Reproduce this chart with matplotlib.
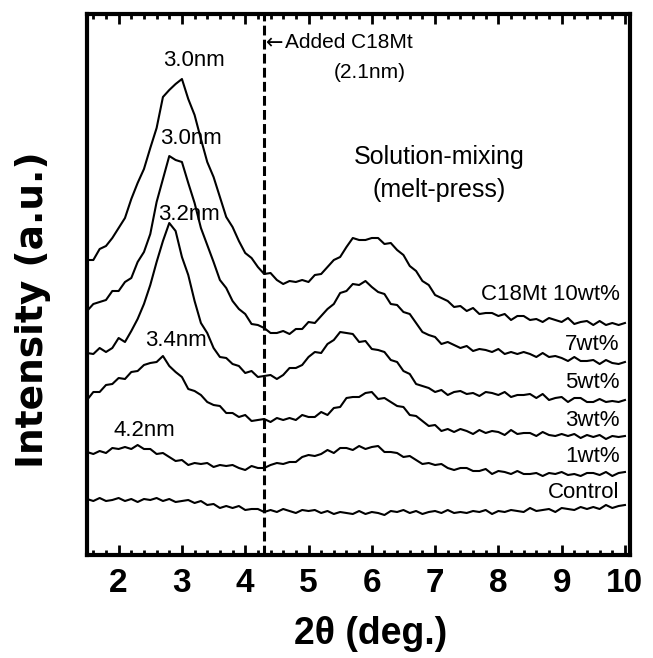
import numpy as np
import matplotlib
matplotlib.use('Agg')
from matplotlib import pyplot as plt
from matplotlib.ticker import MultipleLocator

# 2theta scan, 0.1 deg step
two_theta = np.round(np.arange(1.5, 10.05, 0.1), 1)

# intensities (a.u., already offset for stacking)
c18mt_10 = [295, 295, 306, 309, 317, 327, 337, 356, 372, 386,
            407, 427, 458, 465, 471, 476, 456, 440, 416, 393,
            378, 358, 338, 328, 314, 302, 297, 288, 281, 282,
            275, 271, 274, 273, 275, 273, 280, 281, 288, 295,
            298, 308, 317, 315, 315, 317, 317, 311, 312, 305,
            300, 289, 284, 274, 270, 260, 257, 254, 248, 249,
            244, 247, 241, 242, 242, 239, 241, 235, 239, 239,
            235, 236, 233, 237, 235, 233, 237, 231, 233, 234,
            230, 234, 230, 232, 230, 232]
c18mt_7 = [244, 251, 253, 255, 264, 264, 273, 277, 293, 303,
           321, 353, 376, 399, 395, 393, 372, 352, 327, 310,
           293, 275, 267, 254, 246, 241, 231, 230, 227, 222,
           222, 224, 221, 226, 226, 233, 232, 239, 246, 251,
           262, 264, 271, 270, 274, 268, 263, 261, 251, 250,
           243, 241, 232, 223, 220, 218, 211, 213, 210, 207,
           209, 204, 206, 205, 203, 206, 201, 203, 201, 203,
           201, 198, 202, 198, 199, 197, 194, 198, 194, 194,
           195, 191, 195, 192, 191, 193]
c18mt_5 = [202, 201, 207, 203, 207, 217, 213, 224, 236, 251,
           270, 293, 314, 332, 324, 298, 280, 254, 232, 222,
           207, 198, 197, 191, 189, 182, 184, 178, 179, 180,
           176, 180, 187, 187, 190, 198, 203, 202, 211, 215,
           223, 222, 221, 213, 214, 206, 205, 203, 195, 193,
           184, 181, 171, 169, 167, 163, 165, 160, 163, 164,
           161, 162, 159, 163, 162, 160, 163, 158, 160, 160,
           161, 157, 161, 155, 157, 158, 153, 157, 157, 153,
           153, 156, 153, 154, 153, 155]
c18mt_3 = [155, 163, 163, 170, 171, 177, 176, 183, 184, 190,
           192, 193, 199, 189, 183, 178, 166, 164, 160, 153,
           150, 149, 142, 142, 138, 140, 134, 135, 136, 133,
           137, 135, 137, 135, 140, 138, 138, 143, 140, 147,
           148, 157, 158, 158, 162, 163, 156, 157, 153, 149,
           148, 140, 139, 134, 129, 130, 124, 126, 123, 126,
           124, 121, 125, 122, 124, 123, 120, 125, 121, 122,
           122, 119, 123, 120, 119, 121, 119, 121, 117, 120,
           118, 120, 116, 119, 118, 119]
c18mt_1 = [103, 101, 104, 102, 107, 106, 108, 106, 110, 106,
           106, 101, 102, 98, 94, 95, 90, 92, 91, 92,
           88, 90, 89, 90, 87, 85, 89, 87, 87, 90,
           92, 91, 93, 93, 98, 100, 99, 101, 105, 102,
           107, 107, 105, 109, 106, 108, 109, 103, 103, 102,
           98, 99, 95, 91, 92, 90, 91, 87, 85, 87,
           87, 84, 84, 86, 81, 84, 83, 81, 84, 81,
           81, 82, 79, 82, 81, 83, 80, 81, 79, 82,
           82, 80, 83, 79, 82, 83]
control = [56, 54, 57, 54, 55, 57, 54, 56, 53, 56,
           55, 57, 54, 56, 53, 54, 55, 52, 54, 50,
           51, 47, 49, 47, 49, 45, 46, 46, 43, 45,
           43, 46, 44, 42, 45, 44, 45, 42, 44, 41,
           43, 42, 41, 44, 41, 43, 42, 40, 44, 43,
           45, 42, 44, 41, 43, 44, 42, 45, 42, 43,
           42, 44, 43, 45, 41, 44, 43, 45, 44, 43,
           47, 44, 45, 46, 43, 47, 46, 45, 48, 46,
           48, 46, 50, 47, 49, 50]

series = [c18mt_10, c18mt_7, c18mt_5, c18mt_3, c18mt_1, control]
names = ['C18Mt 10wt%', '7wt%', '5wt%', '3wt%', '1wt%', 'Control']
name_y = [260, 210, 172, 135, 98, 63]
d_labels = ['3.0nm', '3.0nm', '3.2nm', '3.4nm', '4.2nm']
d_pos = [(3.19, 495), (3.15, 417), (3.11, 340), (2.90, 215), (2.41, 125)]
c18mt_2theta = 4.3

plt.rcParams['font.family'] = ['Liberation Sans', 'DejaVu Sans']

fig = plt.figure(figsize=(6.53, 6.58), dpi=100)
ax = fig.add_axes([87/653, 103/658, 543/653, 541/658])

for y in series:
    assert len(y) == len(two_theta)
    ax.plot(two_theta, y, color='black', lw=1.5)

ax.axvline(c18mt_2theta, color='black', lw=2.2, ls=(0, (3.2, 1.4)))

for name, y in zip(names, name_y):
    ax.text(9.92, y, name, ha='right', va='center', fontsize=16)
for lab, (x, y) in zip(d_labels, d_pos):
    ax.text(x, y, lab, ha='center', va='center', fontsize=16)

ax.text(c18mt_2theta + 0.03, 512, '\u2190', ha='left', va='center',
        fontsize=15, family='DejaVu Sans')
ax.text(c18mt_2theta + 0.33, 512, 'Added C18Mt', ha='left', va='center',
        fontsize=15)
ax.text(5.97, 483, '(2.1nm)', ha='center', va='center', fontsize=15)
ax.text(7.07, 398, 'Solution-mixing', ha='center', va='center', fontsize=18)
ax.text(7.07, 365, '(melt-press)', ha='center', va='center', fontsize=18)

ax.set_xlim(1.5, 10.08)
ax.set_ylim(0, 541)
ax.xaxis.set_major_locator(MultipleLocator(1))
ax.xaxis.set_minor_locator(MultipleLocator(0.2))
ax.tick_params(axis='x', which='both', direction='in', top=True, width=2)
ax.tick_params(axis='x', which='major', length=7, pad=9, labelsize=24)
ax.tick_params(axis='x', which='minor', length=3.5)
ax.set_yticks([])
for lab in ax.get_xticklabels():
    lab.set_fontweight('bold')
for sp in ax.spines.values():
    sp.set_linewidth(3)

ax.set_xlabel('2\u03b8 (deg.)', fontsize=27, fontweight='bold')
ax.xaxis.set_label_coords(0.523, -0.112)
ax.set_ylabel('Intensity (a.u.)', fontsize=27, fontweight='bold',
              family='DejaVu Sans')
ax.yaxis.set_label_coords(-0.066, 0.453)

fig.savefig('out.png', dpi=100)
